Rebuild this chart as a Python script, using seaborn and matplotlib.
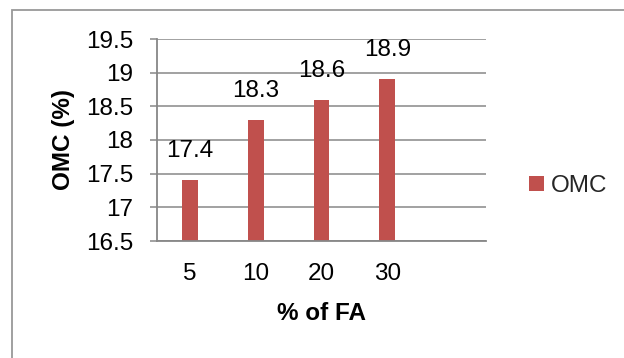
import matplotlib
matplotlib.use("Agg")
import matplotlib.pyplot as plt
import seaborn as sns
import pandas as pd
from matplotlib.patches import Rectangle, Patch

categories = ["5", "10", "20", "30"]
omc_values = [17.4, 18.3, 18.6, 18.9]
series_name = "OMC"
y_ticks = [16.5, 17, 17.5, 18, 18.5, 19, 19.5]
y_tick_labels = ["16.5", "17", "17.5", "18", "18.5", "19", "19.5"]

sns.set_theme(style="white")
plt.rcParams['font.family'] = ['Liberation Sans', 'DejaVu Sans']

bar_color = "#C0504D"
grid_color = "#878787"
fs = 17.5

df = pd.DataFrame({"FA": categories, "OMC": omc_values})

fig = plt.figure(figsize=(6.24, 3.58), dpi=100)
ax = fig.add_axes([157/624, 1-241/358, (486-157)/624, (241-39)/358])

sns.barplot(data=df, x="FA", y="OMC", order=categories, color=bar_color,
            saturation=1, width=0.24, ax=ax, edgecolor="none")

ax.set_ylim(16.5, 19.5)
ax.set_xlim(-0.5, 4.5)
ax.set_yticks(y_ticks)
ax.set_yticklabels(y_tick_labels)
ax.yaxis.grid(True, color=grid_color, linewidth=1.1)
ax.set_axisbelow(True)
for s in ["top", "right"]:
    ax.spines[s].set_visible(False)
for s in ["left", "bottom"]:
    ax.spines[s].set_color(grid_color)
    ax.spines[s].set_linewidth(1.3)
ax.tick_params(axis="y", which="major", left=True, length=5, width=1.1,
               color=grid_color, pad=12, labelsize=fs, labelcolor="black")
ax.tick_params(axis="x", which="major", bottom=False, pad=10,
               labelsize=fs, labelcolor="black")

for i, v in enumerate(omc_values):
    ax.annotate(f"{v}", (i, v), xytext=(0, 13), textcoords="offset points",
                ha="center", va="bottom", fontsize=fs, color="black")

ax.set_xlabel("% of FA", fontsize=fs, fontweight="bold", color="black", labelpad=12)
ax.set_ylabel("OMC (%)", fontsize=fs, fontweight="bold", color="black", labelpad=8)

handle = Patch(facecolor=bar_color, edgecolor="none", label=series_name)
fig.legend(handles=[handle], loc="center left", bbox_to_anchor=(529/624, 1-186/358),
           frameon=False, fontsize=fs, handlelength=0.62, handleheight=0.62,
           handletextpad=0.3, borderaxespad=0, borderpad=0)

fig.patches.append(Rectangle((12/624, -0.1), 1.0, 1 - 10/358 + 0.1,
                             transform=fig.transFigure, fill=False,
                             edgecolor="#999999", linewidth=1.3))

fig.savefig("out.png", dpi=100, facecolor="white")
